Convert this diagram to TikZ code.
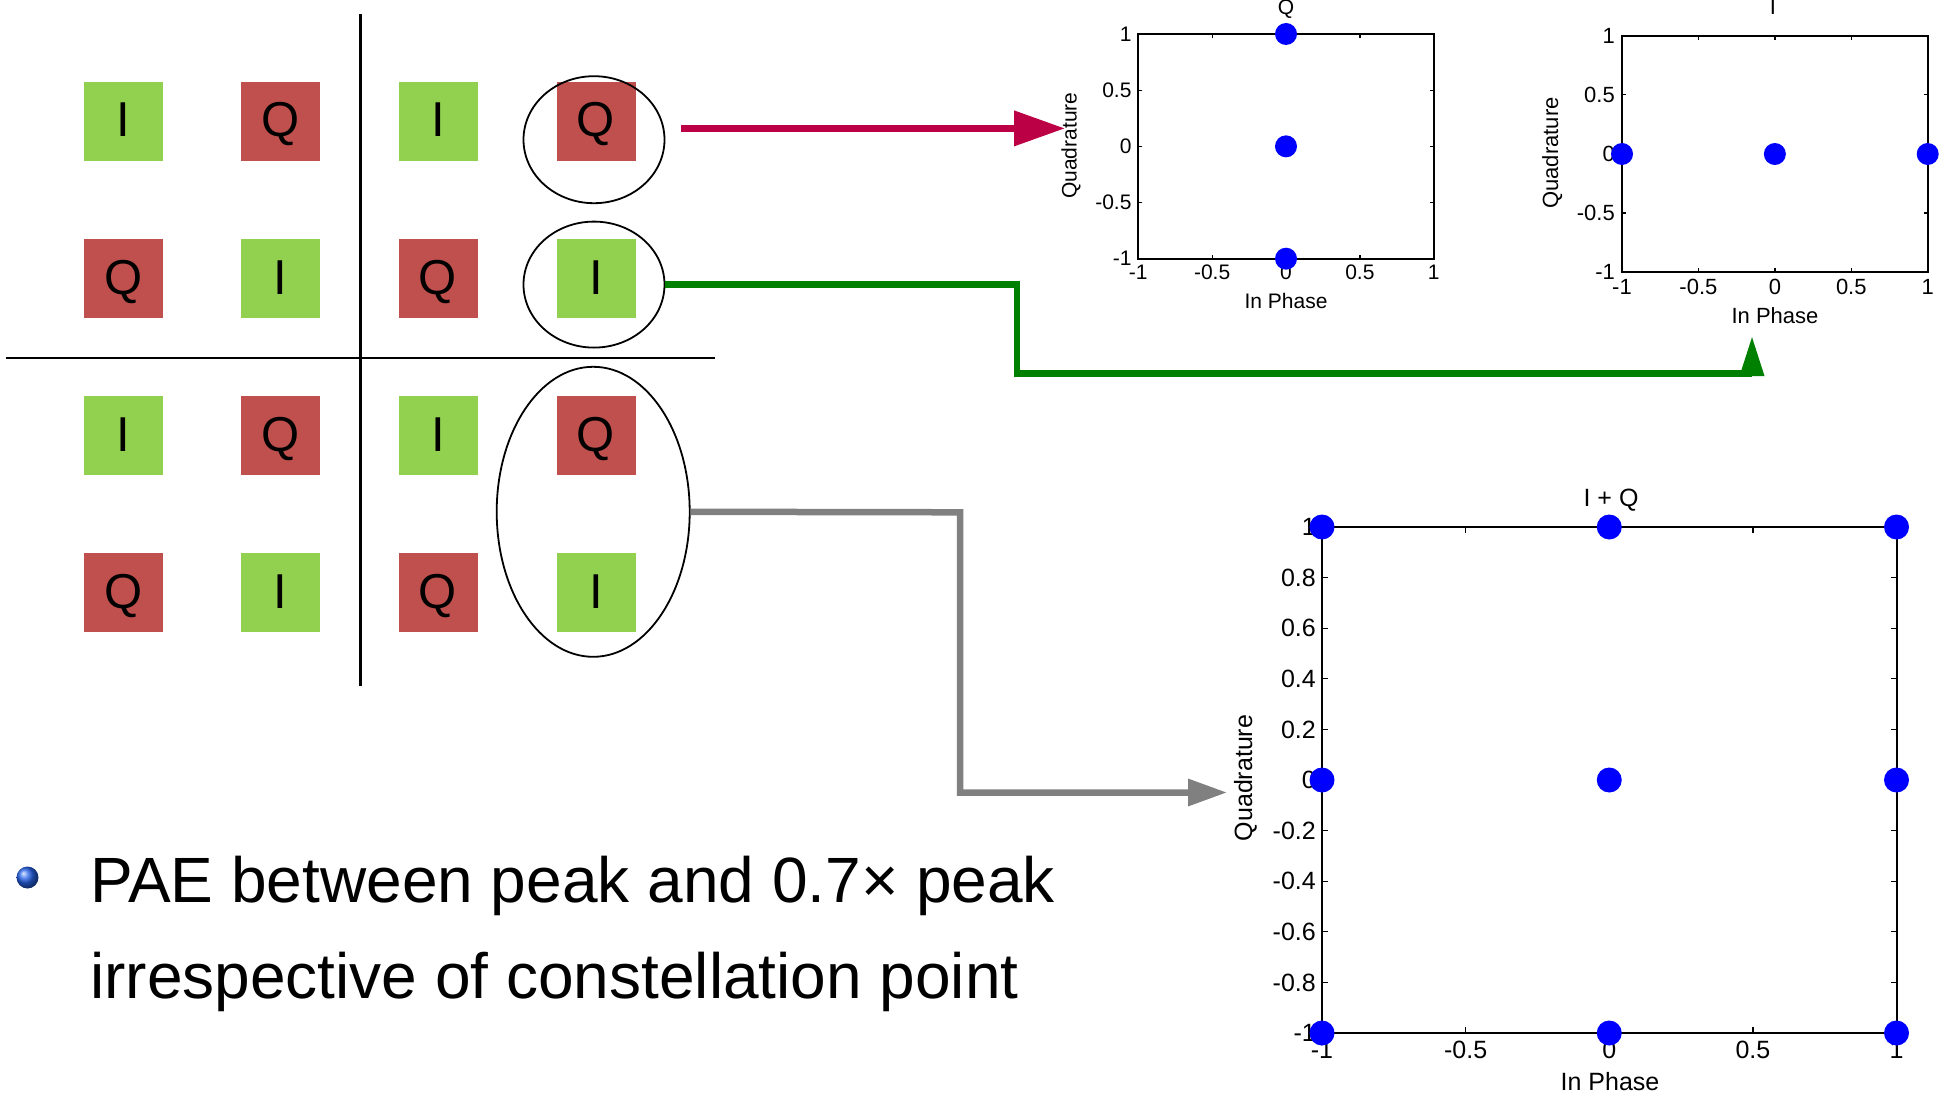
\documentclass[tikz,border=0pt]{standalone}
\usepackage{fontspec}
\setmainfont{Liberation Sans}
\usetikzlibrary{arrows.meta,shapes.geometric}
\definecolor{sqgreen}{HTML}{92D050}
\definecolor{sqred}{HTML}{C0504D}
\definecolor{arrred}{RGB}{188,0,70}
\definecolor{arrgreen}{RGB}{0,128,0}
\definecolor{arrgrey}{RGB}{128,128,128}
\definecolor{dotblue}{RGB}{0,0,255}
\definecolor{bulblue}{RGB}{40,100,235}
\begin{document}
\begin{tikzpicture}[x=1pt,y=-1pt,
  sq/.style={minimum width=79pt,minimum height=79pt,inner sep=0pt,text height=35pt,text depth=4pt,font=\fontsize{49}{50}\selectfont},
  sqI/.style={sq,fill=sqgreen},
  sqQ/.style={sq,fill=sqred},
  ring/.style={ellipse,draw,line width=1.8pt,inner sep=0pt},
  conn/.style={line width=6.5pt},
  axbox/.style={line width=2pt},
  tck/.style={line width=1.3pt},
  lbl/.style={inner sep=0pt},
  dot/.style={fill=dotblue}]
\useasboundingbox (0,0) rectangle (1944,1094);

% dividing lines
\draw[line width=2.2pt] (360.4,14.5) -- (360.4,686);
\draw[line width=2.2pt] (6,357.6) -- (715,357.6);

% squares
\node[sqI] (s11) at (123.3,121.4) {I};
\node[sqQ] (s12) at (280.8,121.4) {Q};
\node[sqI] (s13) at (438,121.4) {I};
\node[sqQ] (s14) at (596,121.4) {Q};
\node[sqQ] (s21) at (123.3,278.8) {Q};
\node[sqI] (s22) at (280.8,278.8) {I};
\node[sqQ] (s23) at (438,278.8) {Q};
\node[sqI] (s24) at (596,278.8) {I};
\node[sqI] (s31) at (123.3,435.5) {I};
\node[sqQ] (s32) at (280.8,435.5) {Q};
\node[sqI] (s33) at (438,435.5) {I};
\node[sqQ] (s34) at (596,435.5) {Q};
\node[sqQ] (s41) at (123.3,592.9) {Q};
\node[sqI] (s42) at (280.8,592.9) {I};
\node[sqQ] (s43) at (438,592.9) {Q};
\node[sqI] (s44) at (596,592.9) {I};

% ellipses
\node[ring,minimum width=141pt,minimum height=127pt] (e1) at (594,139.7) {};
\node[ring,minimum width=141pt,minimum height=126pt] (e2) at (594,284.6) {};
\node[ring,minimum width=193pt,minimum height=290pt] (e3) at (593.2,511.8) {};

% ---- Plot Q ----
\begin{scope}[shift={(1286,146.35)},x=147.7pt,y=112.35pt,font=\fontsize{21}{24}\selectfont]
\draw[axbox] (-1,-1) rectangle (1,1);
\foreach \v in {-0.5,0,0.5} {
  \draw[tck] (\v,-1) -- ++(0,4pt) (\v,1) -- ++(0,-4pt) (-1,\v) -- ++(4pt,0) (1,\v) -- ++(-4pt,0);
}
\foreach \v [count=\i] in {-1,-0.5,0,0.5,1} {
  \node[lbl] (qx\i) at (\v,-1) [yshift=-13.3pt] {\v};
  \node[lbl,anchor=east] (qy\i) at (-1,\v) [xshift=-6.6pt] {\v};
}
\fill[dot] (0,1) circle[radius=11pt];
\fill[dot] (0,0) circle[radius=11pt];
\fill[dot] (0,-1) circle[radius=11pt];
\end{scope}
\node[lbl,anchor=base,font=\fontsize{21}{24}\selectfont] (qt) at (1286,15) {Q};
\node[lbl,anchor=base,font=\fontsize{21}{24}\selectfont] (qxl) at (1286,308) {In Phase};
\node[lbl,anchor=base,rotate=90,font=\fontsize{21}{24}\selectfont] (qyl) at (1076.7,145.7) {Quadrature};

% ---- Plot I ----
\begin{scope}[shift={(1774.85,154)},x=152.85pt,y=118.3pt,font=\fontsize{22}{25}\selectfont]
\draw[axbox] (-1,-1) rectangle (1,1);
\foreach \v in {-0.5,0,0.5} {
  \draw[tck] (\v,-1) -- ++(0,4pt) (\v,1) -- ++(0,-4pt) (-1,\v) -- ++(4pt,0) (1,\v) -- ++(-4pt,0);
}
\foreach \v [count=\i] in {-1,-0.5,0,0.5,1} {
  \node[lbl] (ix\i) at (\v,-1) [yshift=-14.4pt] {\v};
  \node[lbl,anchor=east] (iy\i) at (-1,\v) [xshift=-7pt] {\v};
}
\fill[dot] (-1,0) circle[radius=11pt];
\fill[dot] (0,0) circle[radius=11pt];
\fill[dot] (1,0) circle[radius=11pt];
\end{scope}
\node[lbl,anchor=base,font=\fontsize{22}{25}\selectfont] (it) at (1773,15) {I};
\node[lbl,anchor=base,font=\fontsize{22}{25}\selectfont] (ixl) at (1775,323) {In Phase};
\node[lbl,anchor=base,rotate=90,font=\fontsize{22}{25}\selectfont] (iyl) at (1558,153) {Quadrature};

% ---- Plot I+Q ----
\begin{scope}[shift={(1609.25,780)},x=287.25pt,y=253pt,font=\fontsize{25}{28}\selectfont]
\draw[axbox] (-1,-1) rectangle (1,1);
\foreach \v in {-0.5,0,0.5} {
  \draw[tck] (\v,-1) -- ++(0,6pt) (\v,1) -- ++(0,-6pt);
}
\foreach \v in {-0.8,-0.6,-0.4,-0.2,0,0.2,0.4,0.6,0.8} {
  \draw[tck] (-1,\v) -- ++(6pt,0) (1,\v) -- ++(-6pt,0);
}
\foreach \v [count=\i] in {-1,-0.5,0,0.5,1} {
  \node[lbl] (cx\i) at (\v,-1) [yshift=-17pt] {\v};
}
\foreach \v [count=\i] in {1,0.8,0.6,0.4,0.2,0,-0.2,-0.4,-0.6,-0.8,-1} {
  \node[lbl,anchor=east] (cy\i) at (-1,\v) [xshift=-6pt] {\v};
}
\foreach \a in {-1,0,1} {
  \foreach \b in {-1,0,1} {
    \fill[dot] (\a,\b) circle[radius=12.5pt];
  }
}
\end{scope}
\node[lbl,anchor=base,font=\fontsize{25}{28}\selectfont] (ct) at (1611,506) {I + Q};
\node[lbl,anchor=base,font=\fontsize{25}{28}\selectfont] (cxl) at (1610,1090) {In Phase};
\node[lbl,anchor=base,rotate=90,font=\fontsize{25}{28}\selectfont] (cyl) at (1252,778) {Quadrature};

% ---- connectors ----
\coordinate (rs) at (681,128.4);
\coordinate (rt) at (1065,128.4);
\draw[line width=7pt,arrred,-{Triangle[length=51pt,width=34pt]}] (rs) -- (rt);

\coordinate (g1) at (1017,284.6);
\coordinate (g2) at (1017,373.3);
\coordinate (g3) at (1752,373.3);
\coordinate (gt) at (1752,336);
\draw[conn,arrgreen,-{Triangle[length=40pt,width=23pt]}] (e2.east) -- (g1) -- (g2) -- (g3) -- (gt);

\coordinate (k1) at (960,512.3);
\coordinate (k2) at (960,792.5);
\coordinate (kt) at (1227,792.5);
\draw[conn,arrgrey,-{Triangle[length=39pt,width=26pt]}] (e3.east) -- (k1) -- (k2) -- (kt);

% ---- bullet text ----
\node[circle,minimum size=22pt,inner sep=0pt,shading=ball,ball color=bulblue] (bul) at (27.5,877.5) {};
\node[lbl,anchor=base west,font=\fontsize{64}{70}\selectfont] (b1) at (90,902) {PAE between peak and 0.7× peak};
\node[lbl,anchor=base west,font=\fontsize{64}{70}\selectfont] (b2) at (90,998) {irrespective of constellation point};
\end{tikzpicture}
\end{document}
